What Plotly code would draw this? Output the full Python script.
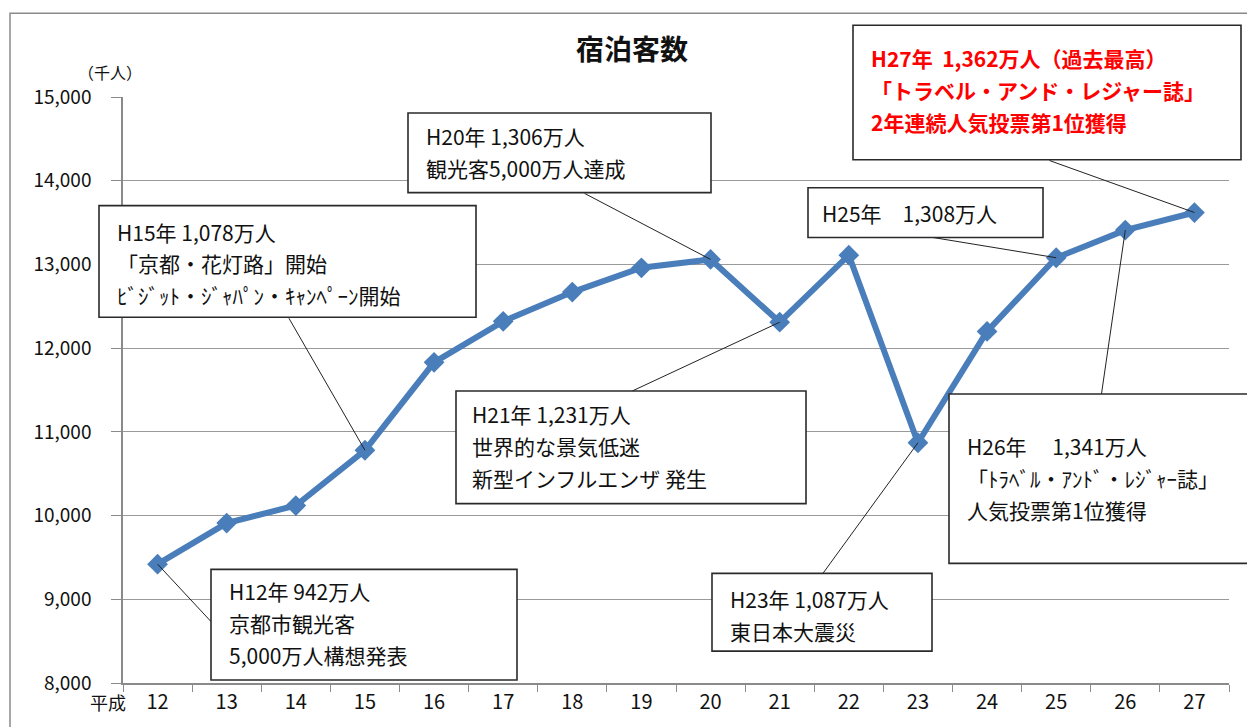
import plotly.graph_objects as go

# ---- data ----
years = ["12", "13", "14", "15", "16", "17", "18", "19", "20", "21", "22", "23", "24", "25", "26", "27"]
visitors = [9420, 9910, 10120, 10780, 11830, 12320, 12670, 12960, 13060, 12310, 13110, 10870, 12200, 13080, 13410, 13620]

title_text = "宿泊客数"
unit_text = "（千人）"
era_text = "平成"

callout_years = ["12", "15", "20", "21", "23", "25", "26", "27"]
callout_lines = [
    ["H12年 942万人", "京都市観光客", "5,000万人構想発表"],
    ["H15年 1,078万人", "「京都・花灯路」開始", "ﾋﾞｼﾞｯﾄ・ｼﾞｬﾊﾟﾝ・ｷｬﾝﾍﾟｰﾝ開始"],
    ["H20年 1,306万人", "観光客5,000万人達成"],
    ["H21年 1,231万人", "世界的な景気低迷", "新型インフルエンザ 発生"],
    ["H23年 1,087万人", "東日本大震災"],
    ["H25年　1,308万人"],
    ["H26年　 1,341万人", "「ﾄﾗﾍﾞﾙ・ｱﾝﾄﾞ・ﾚｼﾞｬｰ誌」", "人気投票第1位獲得"],
    ["H27年  1,362万人（過去最高）", "「トラベル・アンド・レジャー誌」", "2年連続人気投票第1位獲得"],
]
callout_red = [False, False, False, False, False, False, False, True]

# ---- layout geometry (pixels) ----
W, H = 1247, 727
PL, PR, PT, PB = 123, 1229, 97, 685

def px(x):
    return (x - PL) / (PR - PL)

def py(y):
    return (PB - y) / (PB - PT)

# box rectangles (x0, y0, x1, y1) in screen pixels
boxes = [
    (211, 571, 517, 682),
    (99, 206, 476, 318),
    (408, 113, 711, 193),
    (456, 392, 806, 505),
    (712, 575, 932, 653),
    (808, 188, 1043, 238),
    (949, 395, 1256, 565),
    (853, 25, 1241, 160),
]
# text block left x and vertical centre y
text_pos = [
    (229, 625),
    (117, 264),
    (426, 152),
    (472, 447),
    (730, 617),
    (822, 213),
    (967, 479),
    (871, 90),
]
LINE_GAP = 32
# connector offsets from data point to box edge (dx right, dy down, pixels)
conn = [(54, 58), (-76, -132), (-126, -66), (-150, 70), (-96, 132), (-134, -22), (-24, 165), (-145, -52)]

FONT = "Noto Sans CJK JP, Noto Sans, sans-serif"

fig = go.Figure()
fig.add_trace(go.Scatter(
    x=years, y=visitors, mode="lines+markers",
    line=dict(color="#4A7EBB", width=6),
    marker=dict(symbol="diamond", size=16, color="#4A7EBB"),
    showlegend=False, hoverinfo="x+y",
))

shapes = []
annotations = []

# outer border
shapes.append(dict(type="rect", xref="paper", yref="paper",
                   x0=px(10), x1=px(1252), y0=py(13), y1=py(732),
                   line=dict(color="#8a8a8a", width=1.5), fillcolor="rgba(0,0,0,0)", layer="below"))

# connector lines (anchored at the data point, offsets in pixels)
for yr, (dx, dy) in zip(callout_years, conn):
    idx = years.index(yr)
    val = visitors[idx]
    shapes.append(dict(type="line", xref="x", yref="y",
                       xsizemode="pixel", ysizemode="pixel",
                       xanchor=idx, yanchor=val,
                       x0=0, y0=0, x1=dx, y1=-dy,
                       line=dict(color="#222222", width=1), layer="above"))

# boxes
for (x0, y0, x1, y1) in boxes:
    shapes.append(dict(type="rect", xref="paper", yref="paper",
                       x0=px(x0), x1=px(x1), y0=py(y1), y1=py(y0),
                       line=dict(color="#2a2a2a", width=1.6), fillcolor="white", layer="above"))

# box texts (one annotation per line)
for lines, (tx, tc), red in zip(callout_lines, text_pos, callout_red):
    n = len(lines)
    for i, ln in enumerate(lines):
        ty = tc + (i - (n - 1) / 2) * LINE_GAP
        annotations.append(dict(
            xref="paper", yref="paper", x=px(tx), y=py(ty),
            xanchor="left", yanchor="middle", align="left", showarrow=False,
            borderpad=0, borderwidth=0,
            text=("<b>" + ln + "</b>") if red else ln,
            font=dict(family=FONT, size=21, color="#FF0000" if red else "#111111"),
        ))

# title, unit, era
annotations.append(dict(xref="paper", yref="paper", x=px(632), y=py(48), xanchor="center", yanchor="middle",
                        showarrow=False, text="<b>" + title_text + "</b>",
                        font=dict(family=FONT, size=28, color="#111111")))
annotations.append(dict(xref="paper", yref="paper", x=px(110), y=py(72), xanchor="center", yanchor="middle",
                        showarrow=False, text=unit_text,
                        font=dict(family=FONT, size=16, color="#111111")))
annotations.append(dict(xref="paper", yref="paper", x=px(108), y=py(704), xanchor="center", yanchor="middle",
                        showarrow=False, text=era_text,
                        font=dict(family=FONT, size=18, color="#111111")))

fig.update_layout(
    width=W, height=H,
    margin=dict(l=PL, r=W - PR, t=PT, b=H - PB, pad=0),
    paper_bgcolor="white", plot_bgcolor="white",
    font=dict(family=FONT, color="#111111"),
    shapes=shapes, annotations=annotations,
    xaxis=dict(type="category", range=[-0.5, len(years) - 0.5], tickson="boundaries",
               ticks="outside", ticklen=7, tickcolor="#8a8a8a", showline=True, linecolor="#8a8a8a",
               linewidth=1.5, showgrid=False, tickfont=dict(size=20, family=FONT, color="#111111"),
               fixedrange=True),
    yaxis=dict(range=[8000, 15000], dtick=1000, tick0=8000, tickformat=",d",
               ticks="outside", ticklen=10, tickcolor="#8a8a8a", showline=True, linecolor="#8a8a8a",
               linewidth=1.5, showgrid=True, gridcolor="#9a9a9a", gridwidth=1, zeroline=False,
               ticklabelstandoff=16, tickfont=dict(size=19, family=FONT, color="#111111"),
               fixedrange=True),
)

fig.write_html("out.html", config={"displayModeBar": False},
               post_script="document.body.style.margin='0';document.body.style.padding='0';")
